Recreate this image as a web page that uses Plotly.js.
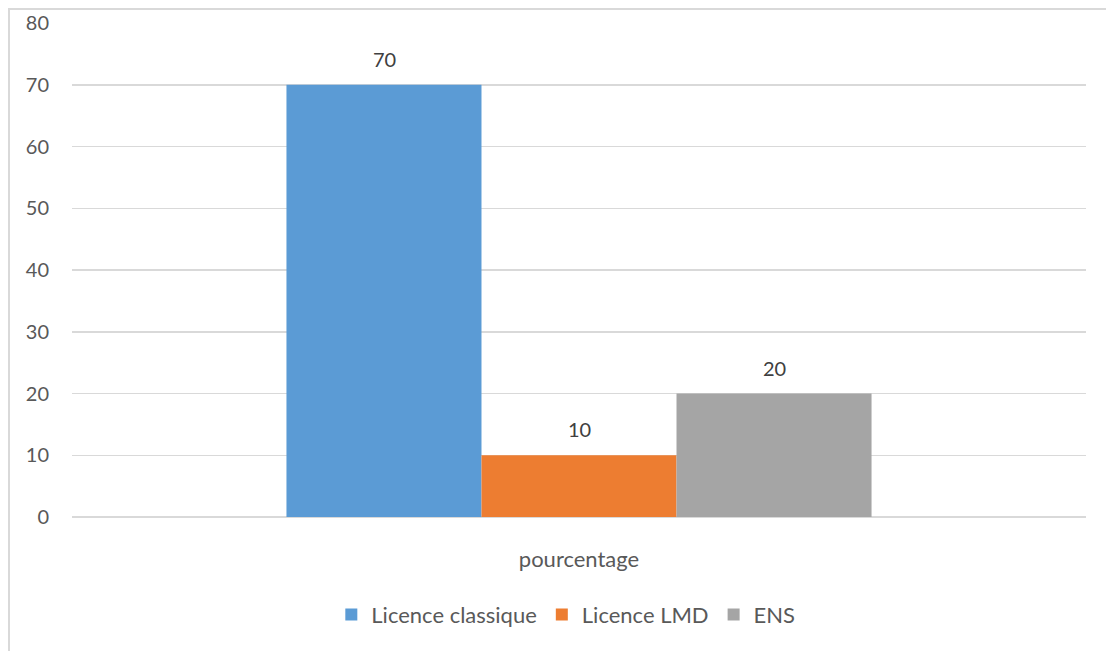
<!DOCTYPE html>
<html>
<head>
<meta charset="utf-8">
<script src="https://cdn.plot.ly/plotly-3.0.1.min.js"></script>
<style>
html,body{margin:0;padding:0;background:#fff;}
#wrap{position:relative;width:1106px;height:651px;overflow:hidden;}
#frame{position:absolute;left:8px;top:8px;width:1110px;height:660px;border-left:2px solid #d9d9d9;border-top:2px solid #d9d9d9;}
#chart{position:absolute;left:0;top:0;width:1106px;height:651px;}
</style>
</head>
<body>
<div id="wrap"><div id="frame"></div><div id="chart"></div></div>
<script>
const categories = ["pourcentage"];
const seriesNames = ["Licence classique", "Licence LMD", "ENS"];
const seriesValues = [[70], [10], [20]];
const colors = ["#5b9bd5", "#ed7d31", "#a5a5a5"];

const FONT = "Lato, Carlito, Open Sans, sans-serif";

const traces = seriesNames.map((name, i) => ({
  type: "bar",
  name: name,
  x: categories,
  y: seriesValues[i],
  marker: {color: colors[i]},
  hoverinfo: "none"
}));

const offsets = [-1, 0, 1];
const annotations = [];
seriesValues.forEach((vals, i) => {
  vals.forEach((v, j) => {
    annotations.push({
      x: j, xref: "x", y: v, yref: "y",
      xshift: offsets[i] * 195,
      yshift: 26,
      text: String(v), showarrow: false,
      font: {size: 20, color: "#404040", family: FONT}
    });
  });
});

const layout = {
  width: 1106, height: 651,
  margin: {l: 72, r: 20, t: 23, b: 134, autoexpand: false},
  paper_bgcolor: "rgba(0,0,0,0)",
  plot_bgcolor: "rgba(0,0,0,0)",
  font: {family: FONT, size: 20, color: "#595959"},
  barmode: "group",
  bargap: 0.423,
  bargroupgap: 0,
  showlegend: true,
  legend: {orientation: "h", x: 0.487, xanchor: "center", y: -0.198, yanchor: "middle",
           font: {size: 22, color: "#595959", family: FONT}, itemwidth: 30, traceorder: "normal"},
  xaxis: {type: "category", showgrid: false, showline: false, ticks: "", ticklabelstandoff: 27,
          tickfont: {size: 22, color: "#595959", family: FONT}},
  yaxis: {range: [0, 80], dtick: 10, showgrid: true, gridcolor: "#d9d9d9", gridwidth: 1.5,
          zeroline: true, zerolinecolor: "#d9d9d9", zerolinewidth: 1.5, showline: false,
          ticks: "", ticklabelstandoff: 22, tickfont: {size: 20, color: "#595959", family: FONT}},
  annotations: annotations
};

Plotly.newPlot("chart", traces, layout, {displayModeBar: false, staticPlot: true});
</script>
</body>
</html>
